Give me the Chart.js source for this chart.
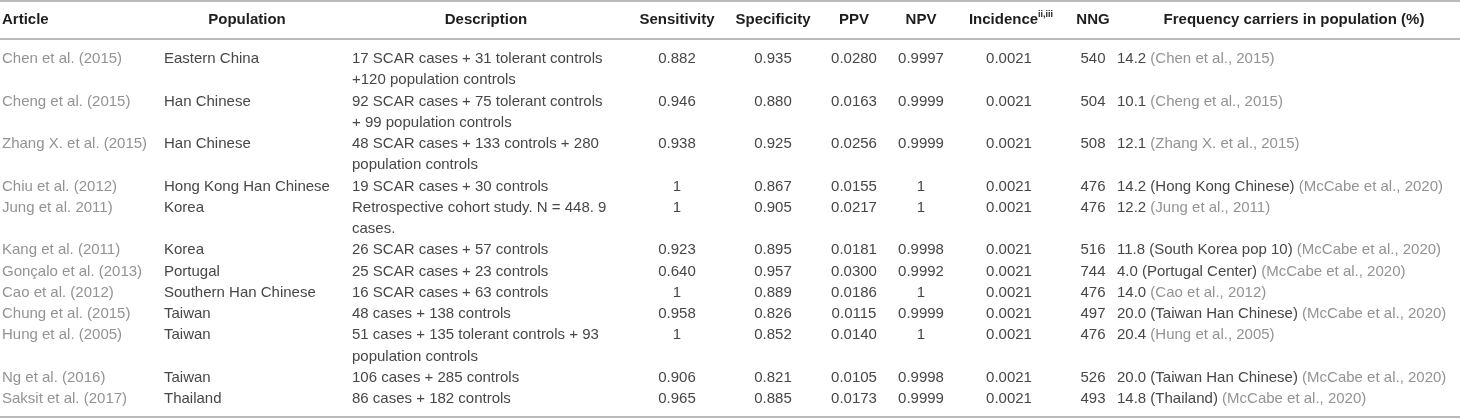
<!DOCTYPE html>
<html>
<head>
<meta charset="utf-8">
<script src="https://cdn.jsdelivr.net/npm/chart.js@4.4.1/dist/chart.umd.min.js"></script>
<style>
    html, body { margin: 0; padding: 0; background: #fff; }
    #wrap { width: 1460px; height: 419px; position: relative; }
</style>
</head>
<body>
<div id="wrap"><canvas id="tableChart"></canvas></div>
<script>
// ---- data ----
const headers = ['Article', 'Population', 'Description', 'Sensitivity', 'Specificity', 'PPV', 'NPV', 'Incidence', 'NNG', 'Frequency carriers in population (%)'];
const incidenceNote = 'ii,iii';

const articles = ['Chen et al. (2015)', 'Cheng et al. (2015)', 'Zhang X. et al. (2015)', 'Chiu et al. (2012)', 'Jung et al. 2011)', 'Kang et al. (2011)',
    'Gonçalo et al. (2013)', 'Cao et al. (2012)', 'Chung et al. (2015)', 'Hung et al. (2005)', 'Ng et al. (2016)', 'Saksit et al. (2017)'];
const populations = ['Eastern China', 'Han Chinese', 'Han Chinese', 'Hong Kong Han Chinese', 'Korea', 'Korea',
    'Portugal', 'Southern Han Chinese', 'Taiwan', 'Taiwan', 'Taiwan', 'Thailand'];
const descriptions = [
    ['17 SCAR cases + 31 tolerant controls', '+120 population controls'],
    ['92 SCAR cases + 75 tolerant controls', '+ 99 population controls'],
    ['48 SCAR cases + 133 controls + 280', 'population controls'],
    ['19 SCAR cases + 30 controls'],
    ['Retrospective cohort study. N = 448. 9', 'cases.'],
    ['26 SCAR cases + 57 controls'],
    ['25 SCAR cases + 23 controls'],
    ['16 SCAR cases + 63 controls'],
    ['48 cases + 138 controls'],
    ['51 cases + 135 tolerant controls + 93', 'population controls'],
    ['106 cases + 285 controls'],
    ['86 cases + 182 controls']
];
const sensitivity = [0.882, 0.946, 0.938, 1, 1, 0.923, 0.640, 1, 0.958, 1, 0.906, 0.965];
const specificity = [0.935, 0.880, 0.925, 0.867, 0.905, 0.895, 0.957, 0.889, 0.826, 0.852, 0.821, 0.885];
const ppv = [0.0280, 0.0163, 0.0256, 0.0155, 0.0217, 0.0181, 0.0300, 0.0186, 0.0115, 0.0140, 0.0105, 0.0173];
const npv = [0.9997, 0.9999, 0.9999, 1, 1, 0.9998, 0.9992, 1, 0.9999, 1, 0.9998, 0.9999];
const incidence = [0.0021, 0.0021, 0.0021, 0.0021, 0.0021, 0.0021, 0.0021, 0.0021, 0.0021, 0.0021, 0.0021, 0.0021];
const nng = [540, 504, 508, 476, 476, 516, 744, 476, 497, 476, 526, 493];
const freqValue = ['14.2', '10.1', '12.1', '14.2', '12.2', '11.8', '4.0', '14.0', '20.0', '20.4', '20.0', '14.8'];
const freqNote = ['', '', '', '(Hong Kong Chinese)', '', '(South Korea pop 10)', '(Portugal Center)', '', '(Taiwan Han Chinese)', '', '(Taiwan Han Chinese)', '(Thailand)'];
const freqCite = ['Chen et al., 2015', 'Cheng et al., 2015', 'Zhang X. et al., 2015', 'McCabe et al., 2020', 'Jung et al., 2011', 'McCabe et al., 2020',
    'McCabe et al., 2020', 'Cao et al., 2012', 'McCabe et al., 2020', 'Hung et al., 2005', 'McCabe et al., 2020', 'McCabe et al., 2020'];

// ---- layout / style ----
const FONT = '"Liberation Sans", Arial, sans-serif';
const bodyFont = '15px ' + FONT;
const headFont = 'bold 15px ' + FONT;
const supFont = 'bold 9px ' + FONT;
const DARK = '#474747';
const GREY = '#939393';
const HEAD = '#1e1e1e';
const RULE = '#a3a3a3';

const lineStep = 21.25;   // px per text line
const firstLineY = 59;    // px of first body line
const headerLine = -1.86; // in line units
const rules = [-2.73, -0.94, 16.85];

// column anchors: body x / align, header x / align
const cols = [
    {x: 2, align: 'left', hx: 2, halign: 'left'},
    {x: 164, align: 'left', hx: 247, halign: 'center'},
    {x: 352, align: 'left', hx: 486, halign: 'center'},
    {x: 677, align: 'center', hx: 677, halign: 'center'},
    {x: 773, align: 'center', hx: 773, halign: 'center'},
    {x: 854, align: 'center', hx: 854, halign: 'center'},
    {x: 921, align: 'center', hx: 921, halign: 'center'},
    {x: 1009, align: 'center', hx: 1011, halign: 'center'},
    {x: 1093, align: 'center', hx: 1093, halign: 'center'},
    {x: 1117, align: 'left', hx: 1294, halign: 'center'}
];

const fmt = (v, d) => v === 1 ? '1' : v.toFixed(d);

// first line of each row
const rowStart = [];
let acc = 0;
descriptions.forEach(d => { rowStart.push(acc); acc += d.length; });

const seg = (text, color, font) => ({text, color: color || DARK, font: font || bodyFont});

function columnSet(ci, cells) {
    return {
        label: headers[ci],
        data: cells.map((c, i) => ({x: cols[ci].x, y: rowStart[i]})),
        cells: cells,
        align: cols[ci].align,
        pointRadius: 0
    };
}

const descLines = [];
const descPoints = [];
descriptions.forEach((d, i) => d.forEach((t, k) => {
    descLines.push([seg(t)]);
    descPoints.push({x: cols[2].x, y: rowStart[i] + k});
}));

const datasets = [
    columnSet(0, articles.map(a => [seg(a, GREY)])),
    columnSet(1, populations.map(p => [seg(p)])),
    {label: headers[2], data: descPoints, cells: descLines, align: 'left', pointRadius: 0},
    columnSet(3, sensitivity.map(v => [seg(fmt(v, 3))])),
    columnSet(4, specificity.map(v => [seg(fmt(v, 3))])),
    columnSet(5, ppv.map(v => [seg(fmt(v, 4))])),
    columnSet(6, npv.map(v => [seg(fmt(v, 4))])),
    columnSet(7, incidence.map(v => [seg(fmt(v, 4))])),
    columnSet(8, nng.map(v => [seg(String(v))])),
    columnSet(9, freqValue.map((v, i) => {
        const s = [seg(v)];
        if (freqNote[i]) s.push(seg(' ' + freqNote[i]));
        s.push(seg(' (' + freqCite[i] + ')', GREY));
        return s;
    })),
    // header row
    {
        label: 'header',
        data: cols.map(c => ({x: c.hx, y: headerLine})),
        cells: headers.map((h, i) => {
            const s = [seg(h, HEAD, headFont)];
            if (i === 7) s.push({text: incidenceNote, color: HEAD, font: supFont, dy: -5});
            return s;
        }),
        aligns: cols.map(c => c.halign),
        pointRadius: 0
    }
];

function drawCell(ctx, parts, x, y, align) {
    let w = 0;
    parts.forEach(p => { ctx.font = p.font; p.w = ctx.measureText(p.text).width; w += p.w; });
    let px = align === 'center' ? x - w / 2 : (align === 'right' ? x - w : x);
    parts.forEach(p => {
        ctx.font = p.font;
        ctx.fillStyle = p.color;
        ctx.fillText(p.text, px, y + (p.dy || 0));
        px += p.w;
    });
}

const tableText = {
    id: 'tableText',
    afterDatasetsDraw(chart) {
        const ctx = chart.ctx;
        const yScale = chart.scales.y;
        ctx.save();
        ctx.strokeStyle = RULE;
        ctx.lineWidth = 1.5;
        rules.forEach(v => {
            const py = yScale.getPixelForValue(v);
            ctx.beginPath();
            ctx.moveTo(chart.chartArea.left, py);
            ctx.lineTo(chart.chartArea.right, py);
            ctx.stroke();
        });
        ctx.textAlign = 'left';
        ctx.textBaseline = 'middle';
        chart.data.datasets.forEach((ds, di) => {
            const meta = chart.getDatasetMeta(di);
            meta.data.forEach((pt, i) => {
                drawCell(ctx, ds.cells[i], pt.x, pt.y, ds.aligns ? ds.aligns[i] : ds.align);
            });
        });
        ctx.restore();
    }
};

document.addEventListener('DOMContentLoaded', () => {
    const ctx = document.getElementById('tableChart');
    new Chart(ctx, {
        type: 'scatter',
        data: {datasets: datasets},
        options: {
            responsive: true,
            maintainAspectRatio: false,
            animation: false,
            events: [],
            layout: {padding: 0},
            plugins: {
                legend: {display: false},
                tooltip: {enabled: false}
            },
            scales: {
                x: {
                    type: 'linear',
                    display: false,
                    min: 0,
                    max: 1460
                },
                y: {
                    type: 'linear',
                    display: false,
                    reverse: true,
                    min: -firstLineY / lineStep,
                    max: (419 - firstLineY) / lineStep
                }
            }
        },
        plugins: [tableText]
    });
});
</script>
</body>
</html>
